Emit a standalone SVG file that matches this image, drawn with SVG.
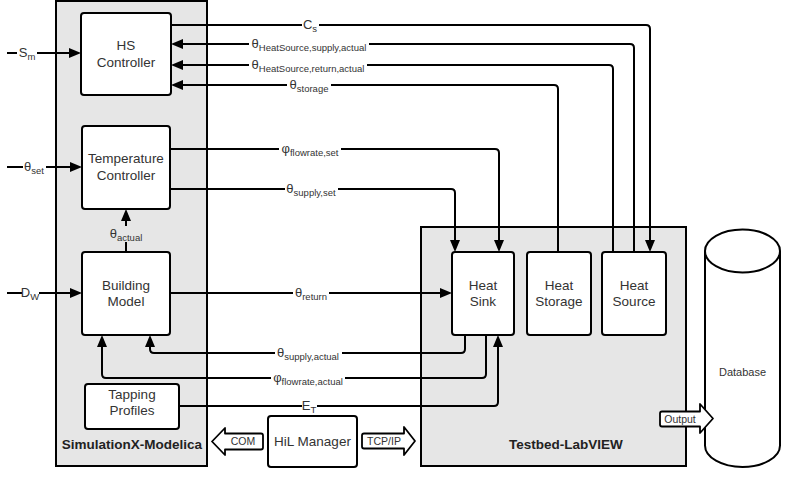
<svg xmlns="http://www.w3.org/2000/svg" width="789" height="478" viewBox="0 0 789 478">
  <style>
    .panel { fill: #e6e6e6; stroke: #000; stroke-width: 2; }
    .node { fill: #fff; stroke: #000; stroke-width: 2; }
    .txt { font-family: "Liberation Sans", Arial, sans-serif; font-size: 13.5px; fill: #333; text-anchor: middle; }
    .title { font-family: "Liberation Sans", Arial, sans-serif; font-size: 13.5px; font-weight: bold; fill: #222; text-anchor: middle; }
    .small { font-family: "Liberation Sans", Arial, sans-serif; font-size: 10.5px; fill: #333; text-anchor: middle; }
    .edge { fill: none; stroke: #000; stroke-width: 2; }
    .arr { marker-end: url(#ah); }
    .lbl { font-family: "Liberation Sans", Arial, sans-serif; font-size: 13px; fill: #333; text-anchor: middle; }
    .sub { font-size: 9.5px; }
    .bg { fill: #fff; }
    .bggray { fill: #e6e6e6; }
    .shape { fill: #fff; stroke: #000; stroke-width: 1.8; stroke-linejoin: round; }
  </style>
  <defs>
    <marker id="ah" markerWidth="12" markerHeight="10" refX="8" refY="5" orient="auto" markerUnits="userSpaceOnUse">
      <path d="M0,0 L12,5 L0,10 Z" fill="#000"/>
    </marker>
  </defs>

  <!-- container panels -->
  <g id="simulationx">
    <rect class="panel" x="56" y="1" width="151" height="465"/>
    <text class="title" x="132" y="449">SimulationX-Modelica</text>
  </g>
  <g id="testbed">
    <rect class="panel" x="421" y="227" width="265" height="239"/>
    <text class="title" x="566" y="449">Testbed-LabVIEW</text>
  </g>

  <!-- connectors -->
  <g id="connectors">
    <path class="edge arr" d="M171,25 H646 Q650,25 650,29 V248"/>
    <path class="edge arr" d="M634,252 V48 Q634,44 630,44 H175"/>
    <path class="edge arr" d="M613,252 V69 Q613,65 609,65 H175"/>
    <path class="edge arr" d="M558,252 V89 Q558,85 554,85 H175"/>
    <path class="edge arr" d="M170,149 H495 Q499,149 499,153 V248"/>
    <path class="edge arr" d="M170,189 H451 Q455,189 455,193 V248"/>
    <path class="edge arr" d="M126,252 V213"/>
    <path class="edge arr" d="M170,293 H448"/>
    <path class="edge arr" d="M465,335 V349 Q465,353 461,353 H154 Q150,353 150,349 V339"/>
    <path class="edge arr" d="M486,335 V374 Q486,378 482,378 H106 Q102,378 102,374 V339"/>
    <path class="edge arr" d="M179,406 H494 Q498,406 498,402 V339"/>
    <path class="edge arr" d="M7,53 H77"/>
    <path class="edge arr" d="M7,167 H78"/>
    <path class="edge arr" d="M7,293 H78"/>

    <!-- edge labels -->
    <rect class="bg" x="302" y="18" width="17" height="14"/>
    <text class="lbl" x="310" y="29">C<tspan class="sub" dy="3">s</tspan></text>

    <rect class="bg" x="249" y="37" width="120" height="14"/>
    <text class="lbl" x="309" y="48">θ<tspan class="sub" dy="3">HeatSource,supply,actual</tspan></text>

    <rect class="bg" x="249" y="58" width="118" height="14"/>
    <text class="lbl" x="308" y="69">θ<tspan class="sub" dy="3">HeatSource,return,actual</tspan></text>

    <rect class="bg" x="287" y="78" width="44" height="14"/>
    <text class="lbl" x="309" y="89">θ<tspan class="sub" dy="3">storage</tspan></text>

    <rect class="bg" x="279" y="142" width="62" height="14"/>
    <text class="lbl" x="310" y="153">φ<tspan class="sub" dy="3">flowrate,set</tspan></text>

    <rect class="bg" x="285" y="182" width="53" height="14"/>
    <text class="lbl" x="311" y="193">θ<tspan class="sub" dy="3">supply,set</tspan></text>

    <rect class="bggray" x="108" y="226" width="36" height="16"/>
    <text class="lbl" x="126" y="238">θ<tspan class="sub" dy="3">actual</tspan></text>

    <rect class="bg" x="293" y="286" width="36" height="14"/>
    <text class="lbl" x="311" y="297">θ<tspan class="sub" dy="3">return</tspan></text>

    <rect class="bg" x="275" y="346" width="67" height="14"/>
    <text class="lbl" x="308" y="357">θ<tspan class="sub" dy="3">supply,actual</tspan></text>

    <rect class="bg" x="271" y="371" width="74" height="14"/>
    <text class="lbl" x="308" y="382">φ<tspan class="sub" dy="3">flowrate,actual</tspan></text>

    <rect class="bg" x="302" y="399" width="15" height="14"/>
    <text class="lbl" x="309" y="410">E<tspan class="sub" dy="3">T</tspan></text>

    <rect class="bg" x="17" y="46" width="20" height="14"/>
    <text class="lbl" x="27" y="57">S<tspan class="sub" dy="3">m</tspan></text>

    <rect class="bg" x="23" y="160" width="23" height="14"/>
    <text class="lbl" x="34" y="171">θ<tspan class="sub" dy="3">set</tspan></text>

    <rect class="bg" x="22" y="286" width="17" height="14"/>
    <text class="lbl" x="30" y="297">D<tspan class="sub" dy="3">W</tspan></text>
  </g>

  <!-- simulation blocks -->
  <g id="hs-controller">
    <rect class="node" x="81" y="13" width="90" height="82" rx="3"/>
    <text class="txt" x="126" y="50">HS</text>
    <text class="txt" x="126" y="67">Controller</text>
  </g>
  <g id="temperature-controller">
    <rect class="node" x="82" y="126" width="88" height="83" rx="3"/>
    <text class="txt" x="126" y="163">Temperature</text>
    <text class="txt" x="126" y="180">Controller</text>
  </g>
  <g id="building-model">
    <rect class="node" x="82" y="252" width="88" height="83" rx="3"/>
    <text class="txt" x="126" y="290">Building</text>
    <text class="txt" x="126" y="306">Model</text>
  </g>
  <g id="tapping-profiles">
    <rect class="node" x="85" y="384" width="94" height="45" rx="3"/>
    <text class="txt" x="132" y="399">Tapping</text>
    <text class="txt" x="132" y="415">Profiles</text>
  </g>

  <!-- testbed blocks -->
  <g id="heat-sink">
    <rect class="node" x="452" y="252" width="62" height="83" rx="3"/>
    <text class="txt" x="483" y="290">Heat</text>
    <text class="txt" x="483" y="306">Sink</text>
  </g>
  <g id="heat-storage">
    <rect class="node" x="527" y="252" width="64" height="83" rx="3"/>
    <text class="txt" x="559" y="290">Heat</text>
    <text class="txt" x="559" y="306">Storage</text>
  </g>
  <g id="heat-source">
    <rect class="node" x="602" y="252" width="64" height="83" rx="3"/>
    <text class="txt" x="634" y="290">Heat</text>
    <text class="txt" x="634" y="306">Source</text>
  </g>

  <!-- HiL manager with its communication arrows -->
  <g id="hil-manager">
    <rect class="node" x="268" y="416" width="89" height="51" rx="3"/>
    <text class="txt" x="312.5" y="446">HiL Manager</text>
  </g>
  <g id="com">
    <path class="shape" d="M212,441.5 L225,428 V433.5 H261 Q263,433.5 263,435.5 V447.5 Q263,449.5 261,449.5 H225 V455 Z"/>
    <text class="small" x="243" y="445">COM</text>
  </g>
  <g id="tcpip">
    <path class="shape" d="M364,433.5 H404 V427 L415,441 L404,455 V448.5 H364 Q362,448.5 362,446.5 V435.5 Q362,433.5 364,433.5 Z"/>
    <text class="small" x="384" y="444.5">TCP/IP</text>
  </g>

  <!-- database -->
  <g id="database">
    <path class="node" d="M705,251 A37.5,21.5 0 0 1 780,251 V445.5 A37.5,21.5 0 0 1 705,445.5 Z"/>
    <path class="edge" d="M705,251 A37.5,21.5 0 0 0 780,251"/>
    <text class="small" x="742.5" y="376" style="font-size:11px">Database</text>
  </g>
  <g id="output">
    <path class="shape" d="M662,411.5 H700 V404 L713,418.5 L700,433 V426.5 H662 Q660,426.5 660,424.5 V413.5 Q660,411.5 662,411.5 Z"/>
    <text class="small" x="680" y="422.5">Output</text>
  </g>
</svg>
